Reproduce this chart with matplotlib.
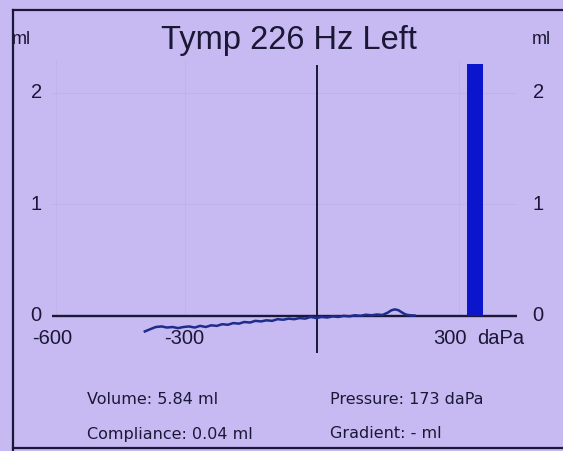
import numpy as np
import matplotlib.pyplot as plt

# tympanogram trace (daPa, ml)
pressure = [-390, -378, -365, -352, -340, -327, -315, -302, -290, -277, -265, -252,
            -240, -227, -215, -202, -190, -177, -165, -152, -140, -127, -115, -102,
            -90, -77, -65, -52, -40, -27, -15, -2, 10, 23, 35, 48, 60, 73, 85, 98,
            110, 123, 135, 148, 160, 168, 176, 184, 192, 200, 210, 220]
compliance = [-0.14, -0.12, -0.10, -0.095, -0.105, -0.10, -0.11, -0.10, -0.095, -0.105,
              -0.09, -0.10, -0.085, -0.09, -0.075, -0.08, -0.065, -0.07, -0.055, -0.06,
              -0.045, -0.05, -0.04, -0.045, -0.03, -0.035, -0.025, -0.03, -0.02, -0.025,
              -0.01, -0.02, -0.01, -0.015, -0.005, -0.01, 0.0, -0.005, 0.005, 0.0,
              0.01, 0.005, 0.012, 0.008, 0.03, 0.05, 0.058, 0.05, 0.03, 0.012, 0.005, 0.003]

bar_x = 357
bar_height = 2.26

yticks = [0, 1, 2]
xticks = [-600, -300, 300]

title = "Tymp 226 Hz Left"
info = [("Volume: 5.84 ml", "Pressure: 173 daPa"),
        ("Compliance: 0.04 ml", "Gradient: - ml")]

bg = '#c7b9f1'
ink = '#1a1836'
W, H = 563, 451

plt.rcParams['font.family'] = ['Liberation Sans', 'DejaVu Sans']
fig = plt.figure(figsize=(W / 100, H / 100), dpi=100, facecolor=bg)


def px(x, y):
    return x / W, 1 - y / H


# frame of the screen
fig.add_artist(plt.Line2D([13 / W, 13 / W], [0, 1 - 10 / H], color=ink, lw=1.6))
fig.add_artist(plt.Line2D([13 / W, 1], [1 - 10 / H, 1 - 10 / H], color=ink, lw=1.6))
fig.add_artist(plt.Line2D([13 / W, 1], [1 - 448 / H, 1 - 448 / H], color=ink, lw=1.6))

ax = fig.add_axes([52 / W, 1 - 366 / H, 465 / W, (366 - 59.5) / H])
ax.set_facecolor('none')
ax.set_xlim(-600, 452)
ax.set_ylim(-0.45, 2.3)
for s in ax.spines.values():
    s.set_visible(False)
ax.set_xticks([])
ax.set_yticks([])

# faint screen grid
for g in [1, 2]:
    ax.axhline(g, color='#bfb2ec', lw=0.7, zorder=0)
for g in [-590, -300, 320]:
    ax.axvline(g, ymin=0.16, color='#c0b3ec', lw=0.7, zorder=0)

ax.axhline(0, color=ink, lw=1.7, zorder=2)
ax.vlines(0, -0.33, 2.25, color=ink, lw=1.4, zorder=2)
ax.bar(bar_x, bar_height, width=37, color='#0b16cc', zorder=3)
ax.plot(pressure, compliance, color='#1e2c8c', lw=1.8, zorder=4)

for t in yticks:
    ax.text(-636, t, str(t), ha='center', va='center', fontsize=14.5, color=ink)
    ax.text(500, t, str(t), ha='center', va='center', fontsize=14.5, color=ink)
for t in xticks:
    ax.text(t, -0.2, str(t), ha='center', va='center', fontsize=14.5, color=ink)
ax.text(362, -0.2, "daPa", ha='left', va='center', fontsize=14.5, color=ink)

fig.text(*px(289, 40), title, ha='center', va='center', fontsize=23.5, color=ink)
fig.text(*px(21, 39), "ml", ha='center', va='center', fontsize=13, color=ink)
fig.text(*px(541, 39), "ml", ha='center', va='center', fontsize=13, color=ink)

for i, (left, right) in enumerate(info):
    y = 399 + i * 35
    fig.text(*px(87, y), left, ha='left', va='center', fontsize=11.5,
             color=ink, family=['DejaVu Sans'])
    fig.text(*px(330, y), right, ha='left', va='center', fontsize=11.5,
             color=ink, family=['DejaVu Sans'])

fig.savefig('out.png', dpi=100, facecolor=bg)
